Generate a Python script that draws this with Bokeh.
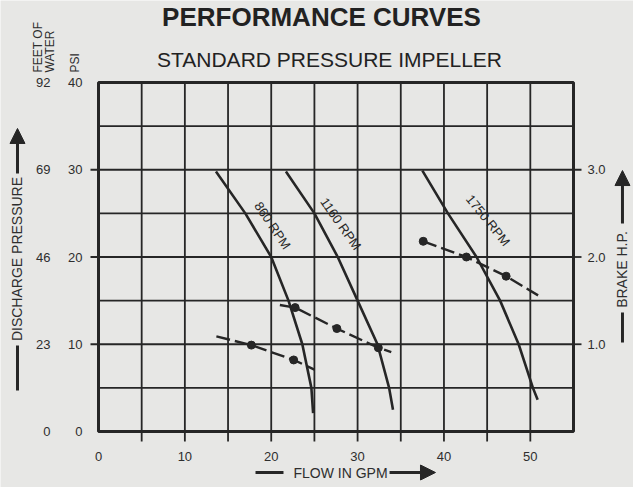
from bokeh.plotting import figure
from bokeh.models import Range1d, Label, Arrow, NormalHead
from bokeh.core.properties import value
from bokeh.embed import file_html
from bokeh.resources import INLINE

# ---------------- data ----------------
x_ticks = [0, 10, 20, 30, 40, 50]
x_tick_marks = [5, 10, 15, 20, 25, 30, 35, 40, 45, 50]
grid_x = [5, 10, 15, 20, 25, 30, 35, 40, 45, 50]
grid_y = [5, 10, 15, 20, 25, 30, 35]
psi_ticks = [0, 10, 20, 30, 40]
psi_tick_marks = [10, 20, 30]
feet_ticks = [0, 23, 46, 69, 92]
hp_ticks = [1.0, 2.0, 3.0]

flow_860 = [13.6, 17.0, 20.0, 22.0, 23.6, 24.65, 24.85]
psi_860 = [29.8, 25.0, 20.0, 15.0, 10.0, 5.0, 2.1]
flow_1160 = [21.7, 25.0, 27.7, 30.0, 32.3, 33.65, 34.1]
psi_1160 = [29.8, 25.0, 20.0, 15.0, 10.0, 5.0, 2.5]
flow_1750 = [37.5, 40.46, 43.77, 46.5, 48.65, 50.3, 50.85]
psi_1750 = [29.9, 25.0, 20.0, 15.0, 10.0, 5.0, 3.65]

bhp_flow_860 = [13.65, 17.7, 22.6, 25.0]
bhp_860 = [1.09, 0.99, 0.82, 0.71]
bhp_dot_flow_860 = [17.7, 22.6]
bhp_dot_860 = [0.99, 0.82]

bhp_flow_1160 = [21.0, 22.77, 27.6, 32.4, 33.9]
bhp_1160 = [1.45, 1.42, 1.18, 0.96, 0.91]
bhp_dot_flow_1160 = [22.77, 27.6, 32.4]
bhp_dot_1160 = [1.42, 1.18, 0.96]

bhp_flow_1750 = [37.6, 42.6, 47.2, 50.9]
bhp_1750 = [2.18, 2.00, 1.78, 1.56]
bhp_dot_flow_1750 = [37.6, 42.6, 47.2]
bhp_dot_1750 = [2.18, 2.00, 1.78]

rpm_labels = ["860 RPM", "1160 RPM", "1750 RPM"]
rpm_label_x = [20.15, 28.05, 45.1]
rpm_label_y = [23.6, 23.8, 24.2]
rpm_label_angle = [-56, -55, -51]

# chart box (data units)
X_MAX = 55
PSI_MAX = 40
FEET_PER_PSI = 2.3
HP_PER_PSI = 0.1

# ---------------- style ----------------
INK = "#262626"
TXT = "#2e2e2e"
BG = "#e7e7e5"
FONT = "Liberation Sans"

# the plotting frame spans the whole canvas; the chart box is drawn inside it
XL, XR = -11.347, 61.947
YB, YT = -6.418, 49.398
p = figure(width=633, height=487, x_range=Range1d(XL, XR), y_range=Range1d(YB, YT),
           output_backend="svg", toolbar_location=None, min_border=0,
           min_border_left=0, min_border_right=0, min_border_top=0,
           min_border_bottom=0, x_axis_location=None, y_axis_location=None)
p.background_fill_color = BG
p.border_fill_color = BG
p.outline_line_color = None
p.xgrid.visible = False
p.ygrid.visible = False
p.extra_y_ranges = {"feet": Range1d(YB * FEET_PER_PSI, YT * FEET_PER_PSI),
                    "hp": Range1d(YB * HP_PER_PSI, YT * HP_PER_PSI)}

# grid and box
p.segment(x0=grid_x, y0=[0] * len(grid_x), x1=grid_x, y1=[PSI_MAX] * len(grid_x),
          line_color=INK, line_width=1.8)
p.segment(x0=[0] * len(grid_y), y0=grid_y, x1=[X_MAX] * len(grid_y), y1=grid_y,
          line_color=INK, line_width=1.8)
p.quad(left=[0], right=[X_MAX], bottom=[0], top=[PSI_MAX], fill_color=None,
       line_color=INK, line_width=3)

# tick marks
p.segment(x0=x_tick_marks, y0=[0] * len(x_tick_marks), x1=x_tick_marks,
          y1=[-1.146] * len(x_tick_marks), line_color=INK, line_width=1.8)
p.segment(x0=[-0.926] * len(psi_tick_marks), y0=psi_tick_marks,
          x1=[0] * len(psi_tick_marks), y1=psi_tick_marks, line_color=INK, line_width=1.8)
p.segment(x0=[X_MAX] * len(hp_ticks), y0=hp_ticks, x1=[X_MAX + 0.926] * len(hp_ticks),
          y1=hp_ticks, y_range_name="hp", line_color=INK, line_width=1.8)

# tick labels
p.text(x=x_ticks, y=[-2.865] * len(x_ticks), text=[str(v) for v in x_ticks],
       text_align="center", text_baseline="middle", text_font=value(FONT),
       text_font_size="13px", text_color=TXT)
p.text(x=[-1.853] * len(psi_ticks), y=psi_ticks, text=[str(v) for v in psi_ticks],
       text_align="right", text_baseline="middle", text_font=value(FONT),
       text_font_size="13px", text_color=TXT)
p.text(x=[-5.558] * len(feet_ticks), y=feet_ticks, text=[str(v) for v in feet_ticks],
       y_range_name="feet", text_align="right", text_baseline="middle",
       text_font=value(FONT), text_font_size="13px", text_color=TXT)
p.text(x=[56.62] * len(hp_ticks), y=hp_ticks, text=[f"{v:.1f}" for v in hp_ticks],
       y_range_name="hp", text_align="left", text_baseline="middle",
       text_font=value(FONT), text_font_size="13px", text_color=TXT)

# pump curves
for fx, fy in ((flow_860, psi_860), (flow_1160, psi_1160), (flow_1750, psi_1750)):
    p.line(fx, fy, line_color=INK, line_width=2.6)

# brake hp curves
for fx, fy, dx, dy in ((bhp_flow_860, bhp_860, bhp_dot_flow_860, bhp_dot_860),
                       (bhp_flow_1160, bhp_1160, bhp_dot_flow_1160, bhp_dot_1160),
                       (bhp_flow_1750, bhp_1750, bhp_dot_flow_1750, bhp_dot_1750)):
    p.line(fx, fy, y_range_name="hp", line_color=INK, line_width=2.4, line_dash="14 5")
    p.scatter(dx, dy, y_range_name="hp", size=8, fill_color=INK, line_color=INK)

# rpm labels
for t, lx, ly, ang in zip(rpm_labels, rpm_label_x, rpm_label_y, rpm_label_angle):
    p.add_layout(Label(x=lx, y=ly, text=t, angle=ang, angle_units="deg",
                       text_align="center", text_baseline="middle",
                       text_font=FONT, text_font_size="13px", text_color=INK))

# titles
p.add_layout(Label(x=25.82, y=47.45, text="PERFORMANCE CURVES", text_align="center",
                   text_baseline="middle", text_font=FONT, text_font_size="26px",
                   text_font_style="bold", text_color="#222222"))
p.add_layout(Label(x=26.75, y=42.58, text="STANDARD PRESSURE IMPELLER",
                   text_align="center", text_baseline="middle", text_font=FONT,
                   text_font_size="21px", text_color="#222222"))

# left column headers
for t, lx in (("FEET OF", -7.005), ("WATER", -5.558), ("PSI", -2.663)):
    p.add_layout(Label(x=lx, y=41.15, text=t, angle=90, angle_units="deg",
                       text_align="left", text_baseline="middle",
                       text_font=FONT, text_font_size="12px", text_color=TXT))

# axis titles
p.add_layout(Label(x=-9.379, y=19.77, text="DISCHARGE PRESSURE", angle=90,
                   angle_units="deg", text_align="center", text_baseline="middle",
                   text_font=FONT, text_font_size="14px", text_color=TXT))
p.add_layout(Label(x=60.67, y=18.57, text="BRAKE H.P.", angle=90,
                   angle_units="deg", text_align="center", text_baseline="middle",
                   text_font=FONT, text_font_size="14px", text_color=TXT))
p.add_layout(Label(x=28.02, y=-4.70, text="FLOW IN GPM", text_align="center",
                   text_baseline="middle", text_font=FONT, text_font_size="14px",
                   text_color=TXT))


def head():
    return NormalHead(size=15, fill_color=INK, line_color=INK, line_width=1)


# arrows and bars beside the axis titles
p.add_layout(Arrow(x_start=-9.379, y_start=29.57, x_end=-9.379, y_end=34.73, end=head(),
                   line_color=INK, line_width=3))
p.add_layout(Arrow(x_start=-9.379, y_start=4.70, x_end=-9.379, y_end=9.857, end=None,
                   line_color=INK, line_width=3))
p.add_layout(Arrow(x_start=60.67, y_start=23.84, x_end=60.67, y_end=29.91, end=head(),
                   line_color=INK, line_width=3))
p.add_layout(Arrow(x_start=60.67, y_start=10.20, x_end=60.67, y_end=13.64, end=None,
                   line_color=INK, line_width=3))
p.add_layout(Arrow(x_start=18.18, y_start=-4.70, x_end=21.42, y_end=-4.70, end=None,
                   line_color=INK, line_width=3))
p.add_layout(Arrow(x_start=33.70, y_start=-4.70, x_end=39.02, y_end=-4.70, end=head(),
                   line_color=INK, line_width=3))

open("out.html", "w").write(file_html(p, INLINE))
